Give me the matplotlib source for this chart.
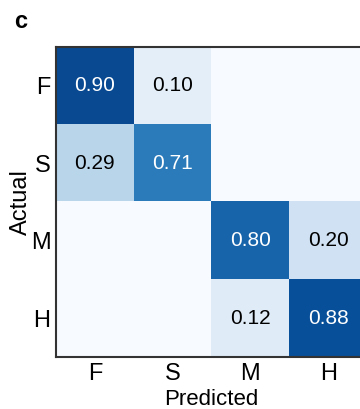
import matplotlib
matplotlib.use('Agg')
import matplotlib.pyplot as plt
import numpy as np

# Normalised confusion matrix (rows = actual, cols = predicted)
classes = ['F', 'S', 'M', 'H']
cm = np.array([
    [0.90, 0.10, 0.00, 0.00],
    [0.29, 0.71, 0.00, 0.00],
    [0.00, 0.00, 0.80, 0.20],
    [0.00, 0.00, 0.12, 0.88],
])

plt.rcParams['font.family'] = ['Liberation Sans', 'DejaVu Sans']

fig = plt.figure(figsize=(3.6, 4.09), dpi=100)
# axes runs slightly past the right edge, as in the cropped original
ax = fig.add_axes([56/360, 1 - 357/409, 311/360, 310/409])

ax.imshow(cm, cmap='Blues', vmin=0, vmax=1, aspect='auto', interpolation='nearest')

for i in range(cm.shape[0]):
    for j in range(cm.shape[1]):
        if cm[i, j] == 0:
            continue
        col = 'white' if cm[i, j] > 0.5 else 'black'
        ax.text(j, i, f'{cm[i, j]:.2f}', ha='center', va='center',
                fontsize=15, color=col)

ax.set_xticks(range(len(classes)))
ax.set_yticks(range(len(classes)))
ax.set_xticklabels(classes, fontsize=17)
ax.set_yticklabels(classes, fontsize=17)
ax.tick_params(length=0, pad=4)
ax.set_xlabel('Predicted', fontsize=16, labelpad=3)
ax.set_ylabel('Actual', fontsize=17, labelpad=-1)

for s in ax.spines.values():
    s.set_linewidth(1.5)
    s.set_color('#333333')

fig.text(14/360, 1 - 21/409, 'c', fontsize=17, fontweight='bold', va='center')

fig.savefig('out.png', dpi=100, facecolor='white')
